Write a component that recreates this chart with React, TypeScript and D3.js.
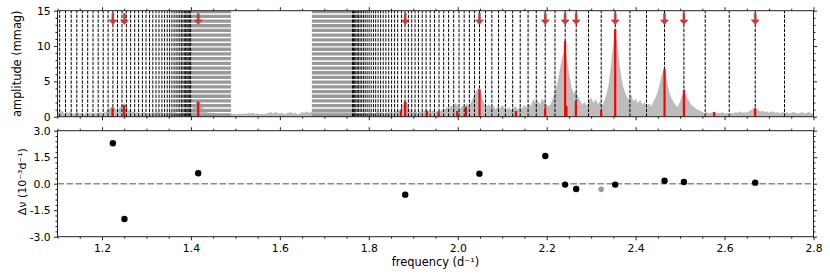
import React, { useEffect, useRef } from 'react';
import * as d3 from 'd3';

// amplitude spectrum, [frequency (d^-1), amplitude (mmag)]
const spectrum: [number, number][] = [
  [1.100, 0.7], [1.105, 0.5], [1.110, 0.8], [1.115, 0.4], [1.120, 0.6], [1.125, 0.5], [1.130, 0.7], [1.135, 0.3],
  [1.140, 0.5], [1.145, 0.6], [1.150, 0.4], [1.155, 0.5], [1.160, 0.3], [1.165, 0.6], [1.170, 0.4], [1.175, 0.5],
  [1.180, 0.3], [1.185, 0.5], [1.190, 0.4], [1.195, 0.6], [1.200, 0.4], [1.205, 0.5], [1.210, 0.7], [1.215, 1.0],
  [1.220, 1.3], [1.225, 1.4], [1.230, 1.1], [1.235, 0.8], [1.240, 1.2], [1.245, 1.6], [1.250, 1.8], [1.255, 1.5],
  [1.260, 0.9], [1.265, 0.6], [1.270, 0.7], [1.275, 0.5], [1.280, 0.6], [1.285, 0.4], [1.290, 0.5], [1.295, 0.6],
  [1.300, 0.4], [1.305, 0.5], [1.310, 0.4], [1.315, 0.6], [1.320, 0.5], [1.325, 0.7], [1.330, 0.5], [1.335, 0.6],
  [1.340, 0.4], [1.345, 0.6], [1.350, 0.5], [1.355, 0.7], [1.360, 0.5], [1.365, 0.6], [1.370, 0.4], [1.375, 0.5],
  [1.380, 0.6], [1.385, 0.5], [1.390, 0.7], [1.395, 0.6], [1.400, 0.8], [1.405, 1.2], [1.410, 1.8], [1.415, 2.2],
  [1.420, 2.0], [1.425, 1.3], [1.430, 0.8], [1.435, 0.6], [1.440, 0.5], [1.450, 0.5], [1.460, 0.4], [1.470, 0.4],
  [1.480, 0.4], [1.490, 0.4], [1.495, 0.3], [1.500, 0.35], [1.505, 0.3], [1.510, 0.4], [1.515, 0.3], [1.520, 0.45],
  [1.525, 0.35], [1.530, 0.5], [1.535, 0.4], [1.540, 0.5], [1.545, 0.3], [1.550, 0.4], [1.555, 0.3], [1.560, 0.35],
  [1.565, 0.3], [1.570, 0.4], [1.575, 0.5], [1.580, 0.6], [1.585, 0.4], [1.590, 0.6], [1.595, 0.5], [1.600, 0.4],
  [1.605, 0.5], [1.610, 0.3], [1.615, 0.4], [1.620, 0.5], [1.625, 0.6], [1.630, 0.4], [1.635, 0.5], [1.640, 0.3],
  [1.645, 0.4], [1.650, 0.6], [1.655, 0.5], [1.660, 0.7], [1.665, 0.5], [1.670, 0.6], [1.680, 0.6], [1.700, 0.6],
  [1.720, 0.6], [1.740, 0.6], [1.760, 0.6], [1.770, 0.6], [1.775, 0.4], [1.780, 0.5], [1.785, 0.4], [1.790, 0.6],
  [1.795, 0.4], [1.800, 0.5], [1.805, 0.6], [1.810, 0.4], [1.815, 0.5], [1.820, 0.7], [1.825, 0.5], [1.830, 0.6],
  [1.835, 0.4], [1.840, 0.6], [1.845, 0.5], [1.850, 0.7], [1.855, 0.5], [1.860, 0.8], [1.865, 0.6], [1.870, 1.0],
  [1.875, 1.4], [1.880, 2.2], [1.885, 2.0], [1.890, 1.2], [1.895, 0.7], [1.900, 0.6], [1.905, 0.8], [1.910, 0.5],
  [1.915, 0.7], [1.920, 0.6], [1.925, 0.8], [1.930, 1.0], [1.935, 0.7], [1.940, 0.6], [1.945, 0.9], [1.950, 0.6],
  [1.955, 0.8], [1.960, 0.7], [1.965, 1.0], [1.970, 0.8], [1.975, 1.3], [1.980, 1.0], [1.985, 1.6], [1.990, 1.2],
  [1.995, 1.9], [2.000, 1.4], [2.005, 1.1], [2.010, 1.5], [2.015, 1.3], [2.020, 1.8], [2.025, 1.4], [2.030, 2.0],
  [2.035, 2.6], [2.040, 3.2], [2.045, 4.0], [2.050, 3.6], [2.055, 2.4], [2.060, 1.8], [2.065, 1.4], [2.070, 1.7],
  [2.075, 1.2], [2.080, 1.5], [2.085, 1.0], [2.090, 1.4], [2.095, 1.1], [2.100, 1.6], [2.105, 1.2], [2.110, 1.0],
  [2.115, 1.3], [2.120, 0.9], [2.125, 1.2], [2.130, 1.4], [2.135, 1.0], [2.140, 1.3], [2.145, 1.1], [2.150, 1.6],
  [2.155, 1.2], [2.160, 1.8], [2.165, 1.4], [2.170, 2.4], [2.175, 1.8], [2.180, 2.2], [2.185, 1.6], [2.190, 2.5],
  [2.195, 2.0], [2.200, 1.7], [2.205, 1.4], [2.210, 1.8], [2.215, 2.6], [2.220, 3.6], [2.225, 4.8], [2.230, 6.5],
  [2.235, 8.2], [2.240, 9.4], [2.243, 9.0], [2.246, 7.6], [2.250, 6.0], [2.255, 4.2], [2.260, 3.2], [2.265, 3.6],
  [2.270, 2.8], [2.275, 2.2], [2.280, 1.6], [2.285, 2.0], [2.290, 1.4], [2.295, 2.2], [2.300, 2.6], [2.305, 1.8],
  [2.310, 2.4], [2.315, 1.7], [2.320, 2.1], [2.325, 1.5], [2.330, 2.2], [2.335, 3.0], [2.340, 4.5], [2.345, 7.0],
  [2.350, 10.0], [2.354, 11.8], [2.358, 10.5], [2.362, 8.0], [2.366, 6.0], [2.370, 4.5], [2.375, 3.5], [2.380, 2.8],
  [2.385, 2.4], [2.390, 3.0], [2.395, 2.0], [2.400, 2.5], [2.405, 1.8], [2.410, 2.3], [2.415, 1.6], [2.420, 2.0],
  [2.425, 1.5], [2.430, 1.8], [2.435, 1.4], [2.440, 2.0], [2.445, 2.6], [2.450, 3.4], [2.455, 4.6], [2.460, 6.0],
  [2.465, 6.6], [2.470, 5.0], [2.475, 3.4], [2.480, 2.6], [2.485, 2.0], [2.490, 1.6], [2.495, 1.3], [2.500, 2.0],
  [2.505, 3.0], [2.510, 3.4], [2.515, 2.6], [2.520, 2.2], [2.525, 1.6], [2.530, 1.4], [2.535, 1.1], [2.540, 0.9],
  [2.545, 0.8], [2.550, 0.6], [2.555, 0.5], [2.560, 0.6], [2.565, 0.4], [2.570, 0.5], [2.575, 0.6], [2.580, 0.4],
  [2.585, 0.5], [2.590, 0.4], [2.595, 0.6], [2.600, 0.4], [2.605, 0.5], [2.610, 0.3], [2.615, 0.5], [2.620, 0.4],
  [2.625, 0.6], [2.630, 0.5], [2.635, 0.7], [2.640, 0.5], [2.645, 0.6], [2.650, 0.5], [2.655, 0.7], [2.660, 0.9],
  [2.665, 1.1], [2.670, 1.2], [2.675, 0.9], [2.680, 0.7], [2.685, 0.8], [2.690, 0.6], [2.695, 0.7], [2.700, 0.5],
  [2.705, 0.7], [2.710, 0.6], [2.715, 0.5], [2.720, 0.6], [2.725, 0.4], [2.730, 0.6], [2.735, 0.5], [2.740, 0.6],
  [2.745, 0.4], [2.750, 0.5], [2.755, 0.6], [2.760, 0.5], [2.765, 0.4], [2.770, 0.5], [2.775, 0.6], [2.780, 0.4],
  [2.785, 0.5], [2.790, 0.6], [2.795, 0.4], [2.800, 0.5],
];

// model frequencies (dashed lines)
const modelFreqsLow = [
  1.1049, 1.1180, 1.1308, 1.1434, 1.1558, 1.1679, 1.1798, 1.1915, 1.2028, 1.2138, 1.2246, 1.2349, 1.2450,
  1.2549, 1.2644, 1.2736, 1.2824, 1.2909, 1.2990, 1.3069, 1.3143, 1.3215, 1.3282, 1.3348, 1.3408, 1.3467,
  1.3521, 1.3573, 1.3622, 1.3667, 1.3710, 1.3750, 1.3786, 1.3820, 1.3851, 1.3881, 1.3908, 1.3933, 1.3955,
  1.3975, 1.3993,
];
const modelFreqsHigh = [
  1.7636, 1.7658, 1.7683, 1.7710, 1.7739, 1.7771, 1.7805, 1.7841, 1.7879, 1.7919, 1.7962, 1.8007, 1.8054,
  1.8104, 1.8155, 1.8209, 1.8266, 1.8324, 1.8385, 1.8448, 1.8513, 1.8580, 1.8650, 1.8735, 1.8815, 1.8890,
  1.8965, 1.9040, 1.9116, 1.9201, 1.9289, 1.9381, 1.9478, 1.9579, 1.9684, 1.9795, 1.9909, 2.0029, 2.0145,
  2.0262, 2.0376, 2.0490, 2.0625, 2.0767, 2.0916, 2.1072, 2.1235, 2.1405, 2.1582, 2.1766, 2.1967, 2.2187,
  2.2416, 2.2664, 2.2941, 2.3226, 2.3541, 2.3872, 2.4245, 2.4650, 2.5086, 2.5565, 2.6105, 2.6690, 2.7348,
];
// ranges where the model lines are too dense to resolve
const denseBands: [number, number][] = [[1.4, 1.49], [1.672, 1.7636]];

// extracted frequencies
const peakFreqs = [1.2237, 1.2500, 1.4164, 1.8722, 1.8819, 1.9307, 1.9568, 1.9988, 2.0184, 2.0490, 2.1308,
  2.1967, 2.2415, 2.2444, 2.2657, 2.3226, 2.3541, 2.4650, 2.5086, 2.5767, 2.6688];
const peakAmps = [1.19, 1.65, 2.12, 0.80, 2.12, 0.80, 0.70, 0.80, 1.38, 3.87, 0.80,
  1.27, 10.7, 1.5, 2.22, 0.95, 12.4, 6.8, 3.8, 0.65, 1.19];

// identified modes: arrows + frequency differences
const modeFreqs = [1.2245, 1.2505, 1.4164, 1.8819, 2.0488, 2.1969, 2.2415, 2.2664, 2.3541, 2.4650, 2.5086, 2.6690];
const modeDiffs = [2.29, -2.0, 0.59, -0.62, 0.57, 1.57, -0.05, -0.30, -0.05, 0.17, 0.10, 0.06];
const otherFreqs = [2.3226];
const otherDiffs = [-0.32];

const xTicks = [1.2, 1.4, 1.6, 1.8, 2.0, 2.2, 2.4, 2.6, 2.8];
const ampTicks = [0, 5, 10, 15];
const diffTicks = [-3.0, -1.5, 0.0, 1.5, 3.0];

const FONT = 'DejaVu Sans, sans-serif';

const App = () => {
  const svgRef = useRef<SVGSVGElement>(null);

  useEffect(() => {
    const svg = d3.select(svgRef.current);
    svg.selectAll('*').remove();

    const left = 57.5, right = 813.5;
    const ampTop = 10.7, ampBottom = 116.7;
    const diffTop = 130.7, diffBottom = 236.7;

    const x = d3.scaleLinear().domain([1.1, 2.8]).range([left, right]);
    const yAmp = d3.scaleLinear().domain([0, 15]).range([ampBottom, ampTop]);
    const yDiff = d3.scaleLinear().domain([-3, 3]).range([diffBottom, diffTop]);

    const minorX = d3.range(1.1, 2.8001, 0.05).filter(v => !xTicks.some(t => Math.abs(t - v) < 1e-6));
    const minorAmp = d3.range(0, 15.001, 1).filter(v => v % 5 !== 0);
    const minorDiff = d3.range(-3, 3.001, 0.3).filter(v => !diffTicks.some(t => Math.abs(t - v) < 1e-6));

    svg.append('defs').append('clipPath').attr('id', 'ampClip')
      .append('rect').attr('x', left).attr('y', ampTop).attr('width', right - left).attr('height', ampBottom - ampTop);

    // ---- top panel ----
    const top = svg.append('g').attr('clip-path', 'url(#ampClip)');

    top.append('path')
      .datum(spectrum)
      .attr('fill', '#bcbcbc')
      .attr('stroke', '#b0b0b0')
      .attr('stroke-width', 0.6)
      .attr('d', d3.area<[number, number]>().x(d => x(d[0])).y0(yAmp(0)).y1(d => yAmp(d[1])));

    top.selectAll('.band')
      .data(denseBands)
      .enter().append('line')
      .attr('x1', d => (x(d[0]) + x(d[1])) / 2)
      .attr('x2', d => (x(d[0]) + x(d[1])) / 2)
      .attr('y1', yAmp(0)).attr('y2', yAmp(15))
      .attr('stroke', '#999')
      .attr('stroke-width', d => x(d[1]) - x(d[0]))
      .attr('stroke-dasharray', '3.3 1.4');

    top.selectAll('.model')
      .data([...modelFreqsLow, ...modelFreqsHigh])
      .enter().append('line')
      .attr('x1', d => x(d)).attr('x2', d => x(d))
      .attr('y1', yAmp(0)).attr('y2', yAmp(15))
      .attr('stroke', '#000')
      .attr('stroke-width', 1)
      .attr('stroke-dasharray', '3.3 1.4');

    top.selectAll('.peak')
      .data(peakFreqs)
      .enter().append('line')
      .attr('x1', d => x(d)).attr('x2', d => x(d))
      .attr('y1', yAmp(0)).attr('y2', (d, i) => yAmp(peakAmps[i]))
      .attr('stroke', '#ff0000')
      .attr('stroke-width', 2.2);

    const arrowPath = (f: number) => {
      const cx = x(f);
      const s0 = yAmp(14.6), s1 = yAmp(13.7), tip = yAmp(13.05);
      return `M${cx - 1},${s0} L${cx + 1},${s0} L${cx + 1},${s1} L${cx + 4},${s1} L${cx},${tip} L${cx - 4},${s1} L${cx - 1},${s1} Z`;
    };
    top.selectAll('.arrow')
      .data(modeFreqs)
      .enter().append('path')
      .attr('d', d => arrowPath(d))
      .attr('fill', '#cc3b3b')
      .attr('stroke', '#b02a2a')
      .attr('stroke-width', 0.5);

    // ---- bottom panel ----
    svg.append('line')
      .attr('x1', left).attr('x2', right)
      .attr('y1', yDiff(0)).attr('y2', yDiff(0))
      .attr('stroke', '#8c8c8c')
      .attr('stroke-width', 1.5)
      .attr('stroke-dasharray', '6.5 2.5');

    svg.selectAll('.other')
      .data(otherFreqs)
      .enter().append('circle')
      .attr('cx', d => x(d)).attr('cy', (d, i) => yDiff(otherDiffs[i]))
      .attr('r', 2.8)
      .attr('fill', '#9a9a9a');

    svg.selectAll('.mode')
      .data(modeFreqs)
      .enter().append('circle')
      .attr('cx', d => x(d)).attr('cy', (d, i) => yDiff(modeDiffs[i]))
      .attr('r', 3.2)
      .attr('fill', '#000');

    // ---- frames and axes ----
    [[ampTop, ampBottom], [diffTop, diffBottom]].forEach(([t, b]) => {
      svg.append('rect')
        .attr('x', left).attr('y', t).attr('width', right - left).attr('height', b - t)
        .attr('fill', 'none').attr('stroke', '#222').attr('stroke-width', 1);
    });

    const addAxis = (axis: any, tx: number, ty: number, labels: boolean) => {
      const g = svg.append('g').attr('transform', `translate(${tx},${ty})`).call(axis);
      g.select('.domain').remove();
      g.selectAll('line').attr('stroke', '#222');
      g.selectAll('text')
        .attr('fill', '#000')
        .style('font-family', FONT)
        .style('font-size', '10.8px');
      if (!labels) g.selectAll('text').remove();
      return g;
    };

    const fmt1 = (v: any) => (+v).toFixed(1);
    const fmt0 = (v: any) => String(v);

    // top panel ticks
    addAxis(d3.axisTop(x).tickValues(xTicks).tickSize(3.5), 0, ampTop, false);
    addAxis(d3.axisTop(x).tickValues(minorX).tickSize(2), 0, ampTop, false);
    addAxis(d3.axisBottom(x).tickValues(xTicks).tickSize(3.5), 0, ampBottom, false);
    addAxis(d3.axisBottom(x).tickValues(minorX).tickSize(2), 0, ampBottom, false);
    addAxis(d3.axisLeft(yAmp).tickValues(ampTicks).tickSize(3.5).tickPadding(3.3).tickFormat(fmt0), left, 0, true);
    addAxis(d3.axisLeft(yAmp).tickValues(minorAmp).tickSize(2), left, 0, false);
    addAxis(d3.axisRight(yAmp).tickValues(ampTicks).tickSize(3.5), right, 0, false);
    addAxis(d3.axisRight(yAmp).tickValues(minorAmp).tickSize(2), right, 0, false);

    // bottom panel ticks
    addAxis(d3.axisTop(x).tickValues(xTicks).tickSize(3.5), 0, diffTop, false);
    addAxis(d3.axisTop(x).tickValues(minorX).tickSize(2), 0, diffTop, false);
    addAxis(d3.axisBottom(x).tickValues(xTicks).tickSize(3.5).tickPadding(3.7).tickFormat(fmt1), 0, diffBottom, true);
    addAxis(d3.axisBottom(x).tickValues(minorX).tickSize(2), 0, diffBottom, false);
    addAxis(d3.axisLeft(yDiff).tickValues(diffTicks).tickSize(3.5).tickPadding(3.3).tickFormat(fmt1), left, 0, true);
    addAxis(d3.axisLeft(yDiff).tickValues(minorDiff).tickSize(2), left, 0, false);
    addAxis(d3.axisRight(yDiff).tickValues(diffTicks).tickSize(3.5), right, 0, false);
    addAxis(d3.axisRight(yDiff).tickValues(minorDiff).tickSize(2), right, 0, false);

    // axis titles
    svg.append('text')
      .attr('transform', `translate(21,${(ampTop + ampBottom) / 2}) rotate(-90)`)
      .attr('text-anchor', 'middle')
      .style('font-family', FONT).style('font-size', '11.4px')
      .text('amplitude (mmag)');

    svg.append('text')
      .attr('transform', `translate(26,${(diffTop + diffBottom) / 2 - 2}) rotate(-90)`)
      .attr('text-anchor', 'middle')
      .style('font-family', FONT).style('font-size', '11px')
      .text('Δν (10⁻³d⁻¹)');

    svg.append('text')
      .attr('x', (left + right) / 2).attr('y', 266)
      .attr('text-anchor', 'middle')
      .style('font-family', FONT).style('font-size', '11.4px')
      .text('frequency (d⁻¹)');
  }, []);

  return (
    <svg ref={svgRef} width={830} height={277}
      style={{ position: 'absolute', left: 0, top: 0, background: '#fff' }} />
  );
};

export default App;
